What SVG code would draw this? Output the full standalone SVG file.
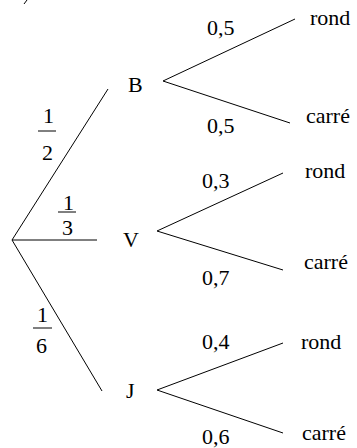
<svg xmlns="http://www.w3.org/2000/svg" width="357" height="448" viewBox="0 0 357 448" font-family="'Liberation Serif', 'DejaVu Serif', 'Times New Roman', Times, serif" font-size="22">
<style>
text{font-family:'Liberation Serif','DejaVu Serif','Times New Roman',Times,serif;font-size:22px;fill:#000}
line,path{stroke:#000;stroke-width:1;fill:none}
</style>
<rect width="357" height="448" fill="#fff"/>
<path d="M27,0 L24,4"/>
<g id="connectors">
<line x1="12" y1="240" x2="108" y2="89"/>
<line x1="12" y1="240" x2="97" y2="240"/>
<line x1="12" y1="240" x2="102" y2="391"/>
<line x1="163" y1="81" x2="295" y2="19"/>
<line x1="163" y1="81" x2="290" y2="123"/>
<line x1="157" y1="231" x2="283" y2="173"/>
<line x1="157" y1="231" x2="283" y2="270"/>
<line x1="157" y1="390" x2="283" y2="343"/>
<line x1="157" y1="390" x2="283" y2="433"/>
</g>
<g id="labels-root">
<text x="43" y="123">1</text><line x1="38" y1="131" x2="56" y2="131"/><text x="42" y="160">2</text>
<text x="63" y="210">1</text><line x1="58" y1="212" x2="76" y2="212"/><text x="62" y="235">3</text>
<text x="37" y="322">1</text><line x1="33" y1="328" x2="52" y2="328"/><text x="36" y="353">6</text>
</g>
<g id="node-B"><text x="128" y="92">B</text></g>
<g id="node-V"><text x="123" y="247">V</text></g>
<g id="node-J"><text x="126" y="398">J</text></g>
<g id="node-B-rond"><text x="310" y="25">rond</text></g>
<g id="node-B-carre"><text x="306" y="123">carré</text></g>
<g id="node-V-rond"><text x="305" y="178">rond</text></g>
<g id="node-V-carre"><text x="304" y="269">carré</text></g>
<g id="node-J-rond"><text x="301" y="349">rond</text></g>
<g id="node-J-carre"><text x="302" y="440">carré</text></g>
<g id="labels-branches">
<text x="207" y="35">0,5</text>
<text x="207" y="133">0,5</text>
<text x="202" y="188">0,3</text>
<text x="202" y="285">0,7</text>
<text x="202" y="349">0,4</text>
<text x="202" y="444">0,6</text>
</g>
</svg>
